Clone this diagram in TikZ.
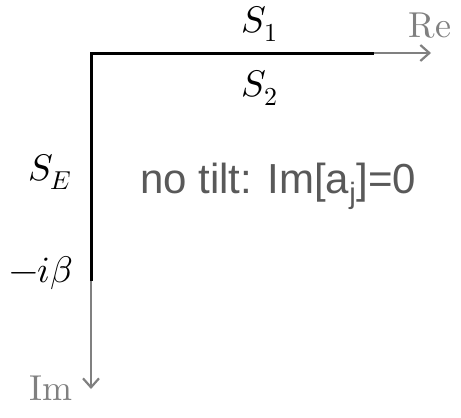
\documentclass[tikz,border=0pt]{standalone}
\usepackage{fontspec}
\usepackage{unicode-math}
\setmathfont{Latin Modern Math}
\newfontfamily\arialfont{Liberation Sans}
\newfontfamily\lmtenfont{lmroman10-regular.otf}
\usetikzlibrary{arrows.meta}
\definecolor{axisgray}{RGB}{128,128,128}
\definecolor{textgray}{RGB}{89,89,89}
\tikzset{
  axisline/.style={draw=axisgray, line width=2.4pt, -{Straight Barb[length=9pt,width=16pt,line width=2.2pt]}},
  contour/.style={draw=black, line width=3pt, line cap=butt, line join=miter},
  mathlbl/.style={font=\fontsize{37}{40}\selectfont, inner sep=0pt, anchor=base},
  axislbl/.style={font=\lmtenfont\fontsize{36}{40}\selectfont, text=axisgray, inner sep=0pt, anchor=base},
  notelbl/.style={font=\arialfont\fontsize{42}{46}\selectfont, text=textgray, inner sep=0pt, anchor=base}
}
\begin{document}
\begin{tikzpicture}[x=1pt,y=-1pt]
\useasboundingbox (0,0) rectangle (461,418);
\coordinate (O) at (91,53);
\coordinate (reE) at (374,53);
\coordinate (reTip) at (431,53);
\coordinate (imE) at (91,281);
\coordinate (imTip) at (91,389);
\draw[axisline] (reE) -- (reTip);
\draw[axisline] (imE) -- (imTip);
\draw[contour] (reE) -- (O) -- (imE);
\node[mathlbl] (s1) at (260,32) {$S_1$};
\node[mathlbl] (s2) at (260,96) {$S_2$};
\node[axislbl] (re) at (430,37) {Re};
\node[mathlbl] (se) at (50,180) {$S_E$};
\node[mathlbl] (ib) at (41,282) {$-i\beta$};
\node[axislbl] (im) at (51,400) {Im};
\node[notelbl] (note) at (278,193) {no tilt: Im[a\textsubscript{j}]=0};
\end{tikzpicture}
\end{document}
